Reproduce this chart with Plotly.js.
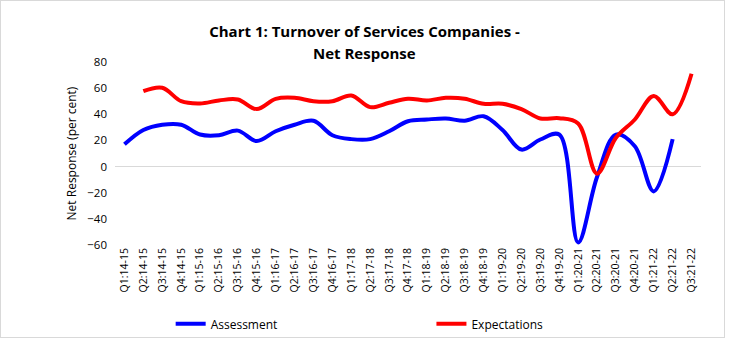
<!DOCTYPE html>
<html>
<head>
<meta charset="utf-8">
<script src="https://cdn.plot.ly/plotly-3.0.1.min.js"></script>
<style>
html,body{margin:0;padding:0;background:#fff;}
#wrap{position:absolute;left:0;top:0;width:723px;height:336px;border:1px solid #d9d9d9;}
#chart{position:absolute;left:0;top:0;width:729px;height:342px;}
</style>
</head>
<body>
<div id="wrap"></div>
<div id="chart"></div>
<script>
const quarters = ["Q1:14-15","Q2:14-15","Q3:14-15","Q4:14-15","Q1:15-16","Q2:15-16","Q3:15-16","Q4:15-16",
"Q1:16-17","Q2:16-17","Q3:16-17","Q4:16-17","Q1:17-18","Q2:17-18","Q3:17-18","Q4:17-18",
"Q1:18-19","Q2:18-19","Q3:18-19","Q4:18-19","Q1:19-20","Q2:19-20","Q3:19-20","Q4:19-20",
"Q1:20-21","Q2:20-21","Q3:20-21","Q4:20-21","Q1:21-22","Q2:21-22","Q3:21-22"];
const assessment = [17,28,32,32,24.5,24,27.5,19.5,27,32,35,24,21,21,27,34.7,36,36.8,35,38.5,28,13,20.7,24.5,-58,-8,24.5,15.6,-19,21,null];
const expectations = [null,57.7,60.3,50,48.3,50.6,51.3,44,51.8,52.6,50,50,54.4,45.5,48.8,51.9,50.6,52.6,51.9,48,48,44,36.8,37,33,-5.4,22,36,54,40,71];
const yTicks = [-60,-40,-20,0,20,40,60,80];
const titleLine1 = "Chart 1: Turnover of Services Companies -";
const titleLine2 = "Net Response";

const traces = [
  {x: quarters, y: assessment, name: "Assessment", type: "scatter", mode: "lines",
   line: {color: "#0000FF", width: 4, shape: "spline", smoothing: 1}, legend: "legend"},
  {x: quarters, y: expectations, name: "Expectations", type: "scatter", mode: "lines",
   line: {color: "#FF0000", width: 4, shape: "spline", smoothing: 1}, legend: "legend2"}
];
const layout = {
  width: 729, height: 342,
  margin: {l: 115, r: 28, t: 62, b: 97},
  paper_bgcolor: "rgba(0,0,0,0)", plot_bgcolor: "rgba(0,0,0,0)",
  font: {family: "Open Sans, sans-serif", size: 11, color: "#000"},
  title: {text: "<b>" + titleLine1 + "</b>",
          x: 0.5, xanchor: "center", yref: "container", y: 0.907, yanchor: "middle",
          font: {family: "Open Sans, sans-serif", size: 15, color: "#000"}},
  annotations: [{text: "<b>" + titleLine2 + "</b>", xref: "paper", yref: "paper",
          x: 0.425, y: 1.049, xanchor: "center", yanchor: "middle", showarrow: false,
          font: {family: "Open Sans, sans-serif", size: 15, color: "#000"}}],
  xaxis: {type: "category", tickangle: -90, showgrid: false, showline: false, zeroline: false,
          ticks: "", tickfont: {size: 10.5}, range: [-0.5, 30.5], automargin: false},
  yaxis: {range: [-60, 80], tickvals: yTicks, showgrid: false, zeroline: true,
          zerolinecolor: "#d9d9d9", zerolinewidth: 1, showline: false, ticks: "",
          tickfont: {size: 11.5}, automargin: false, ticklabelstandoff: 7,
          title: {text: "Net Response (per cent)", font: {size: 12}, standoff: 8}},
  showlegend: true,
  legend: {orientation: "h", yref: "container", x: 0.095, y: 0.053, xanchor: "left", yanchor: "middle",
           font: {size: 12}, bgcolor: "rgba(0,0,0,0)"},
  legend2: {orientation: "h", yref: "container", x: 0.54, y: 0.053, xanchor: "left", yanchor: "middle",
           font: {size: 12}, bgcolor: "rgba(0,0,0,0)"}
};
Plotly.newPlot("chart", traces, layout, {displayModeBar: false, staticPlot: true});
</script>
</body>
</html>
